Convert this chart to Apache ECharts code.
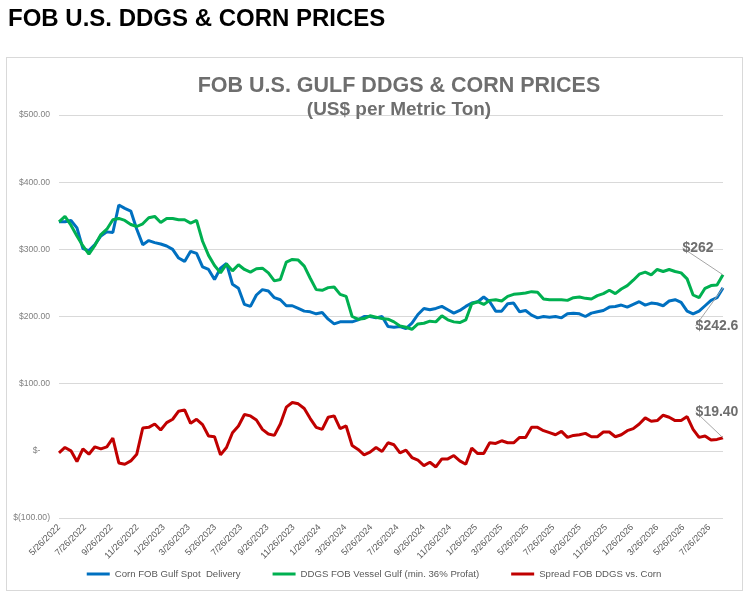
<!DOCTYPE html>
<html>
<head>
    <meta charset="utf-8" />
    <script src="https://cdn.jsdelivr.net/npm/echarts@6/dist/echarts.min.js"></script>
    <title>FOB U.S. DDGS & CORN PRICES</title>
    <style>
        body { margin: 0; background: #fff; }
        #frame { position: absolute; left: 6px; top: 57px; width: 735px; height: 532px; border: 1px solid #d9d9d9; }
        #main { position: absolute; left: 0; top: 0; width: 748px; height: 600px; }
    </style>
</head>
<body>
    <div id="frame"></div>
    <div id="main"></div>
    <script type="text/javascript">
    // x axis: one category per day, labels every second month on the 26th
    var firstDay = [2022, 5, 26];
    var lastDay = [2026, 8, 27];
    var stepDays = 14; // one reading every two weeks
    var tickLabels = ['5/26/2022', '7/26/2022', '9/26/2022', '11/26/2022', '1/26/2023', '3/26/2023',
        '5/26/2023', '7/26/2023', '9/26/2023', '11/26/2023', '1/26/2024', '3/26/2024',
        '5/26/2024', '7/26/2024', '9/26/2024', '11/26/2024', '1/26/2025', '3/26/2025',
        '5/26/2025', '7/26/2025', '9/26/2025', '11/26/2025', '1/26/2026', '3/26/2026',
        '5/26/2026', '7/26/2026'];

    var seriesNames = ['Corn FOB Gulf Spot  Delivery', 'DDGS FOB Vessel Gulf (min. 36% Profat)', 'Spread FOB DDGS vs. Corn'];
    var seriesColors = ['#0070c0', '#00b050', '#c00000'];
    var endLabels = ['$242.6', '$262', '$19.40'];

    var corn = [341, 341, 343, 332, 301, 298, 307, 320, 326, 325,
        366, 361, 357, 330, 307, 313, 310, 308, 305, 300,
        287, 282, 297, 294, 274, 270, 255, 272, 279, 248,
        242, 218, 215, 232, 240, 238, 228, 225, 216, 216,
        212, 208, 207, 204, 206, 196, 189, 192, 192, 192,
        195, 200, 200, 198, 200, 185, 184, 185, 182, 190,
        203, 212, 210, 212, 215, 210, 205, 209, 215, 220,
        222, 229, 222, 208, 208, 219, 220, 207, 209, 202,
        198, 200, 199, 200, 198, 204, 205, 204, 200, 205,
        207, 209, 214, 215, 217, 214, 218, 222, 217, 220,
        219, 216, 223, 225, 221, 208, 204, 208, 216, 224,
        228, 242.6];
    var ddgs = [341, 349, 336, 320, 305, 293, 306, 322, 330, 344,
        346, 343, 337, 334, 338, 347, 349, 340, 346, 346,
        344, 344, 339, 343, 312, 291, 276, 265, 278, 268,
        277, 270, 266, 271, 272, 265, 253, 255, 281, 285,
        284, 275, 257, 240, 239, 243, 244, 233, 230, 200,
        196, 197, 201, 199, 197, 196, 192, 186, 184, 181,
        189, 190, 193, 192, 201, 195, 192, 191, 195, 219,
        222, 218, 224, 225, 223, 230, 233, 234, 235, 237,
        236, 226, 225, 225, 225, 224, 228, 229, 227, 226,
        231, 234, 239, 234, 241, 246, 254, 263, 266, 262,
        270, 267, 270, 267, 265, 256, 232, 228, 242, 246,
        247, 262];
    var spread = [-3, 5, 0, -16, 3, -5, 6, 3, 6, 19,
        -18, -20, -15, -5, 34, 35, 40, 31, 42, 47,
        59, 61, 41, 47, 39, 22, 21, -6, 5, 27,
        37, 54, 52, 46, 32, 25, 23, 40, 65, 72,
        70, 63, 48, 35, 32, 50, 52, 33, 37, 8,
        2, -6, -2, 5, -1, 12, 9, -3, 1, -10,
        -14, -22, -17, -24, -12, -12, -7, -15, -20, 4,
        -4, -4, 12, 11, 15, 12, 12, 20, 20, 35,
        35, 30, 27, 24, 29, 20, 23, 24, 26, 21,
        21, 28, 28, 21, 24, 30, 33, 40, 49, 44,
        45, 53, 50, 45, 45, 51, 32, 20, 22, 16,
        17, 19.4];

    function fmtDate(d) {
        return (d.getMonth() + 1) + '/' + d.getDate() + '/' + d.getFullYear();
    }
    var days = [];
    var d = new Date(firstDay[0], firstDay[1] - 1, firstDay[2]);
    var stop = new Date(lastDay[0], lastDay[1] - 1, lastDay[2]);
    while (d <= stop) {
        days.push(fmtDate(d));
        d = new Date(d.getFullYear(), d.getMonth(), d.getDate() + 1);
    }

    function pairs(values) {
        return values.map(function(v, k) { return [days[k * stepDays], v]; });
    }

    function money(v) {
        if (v === 0) return '$-    ';
        if (v < 0) return '$(' + Math.abs(v).toFixed(2) + ')';
        return '$' + v.toFixed(2);
    }

    var arial = '"Liberation Sans", Arial, sans-serif';

    // label placement for the last point of each series
    var labelPos = [
        { position: 'bottom', dx: -6, dy: 26 },
        { position: 'top', dx: -25, dy: -15 },
        { position: 'top', dx: -6, dy: -14 }
    ];

    function makeSeries(i, values) {
        var data = pairs(values);
        var last = data.length - 1;
        data[last] = {
            value: data[last],
            label: {
                show: true,
                position: labelPos[i].position,
                formatter: endLabels[i],
                fontFamily: arial,
                fontWeight: 'bold',
                fontSize: 14,
                color: '#6e6e6e'
            }
        };
        return {
            name: seriesNames[i],
            type: 'line',
            data: data,
            symbol: 'circle',
            symbolSize: 0,
            showSymbol: true,
            showAllSymbol: true,
            clip: false,
            lineStyle: { color: seriesColors[i], width: 3 },
            itemStyle: { color: seriesColors[i] },
            labelLayout: { dx: labelPos[i].dx, dy: labelPos[i].dy },
            labelLine: { show: true, lineStyle: { color: '#a6a6a6', width: 1 } }
        };
    }

    var myChart = echarts.init(document.getElementById('main'));
    var option = {
        animation: false,
        title: [{
            text: 'FOB U.S. DDGS & CORN PRICES',
            left: 3,
            top: 2,
            textStyle: { fontFamily: arial, fontWeight: 'bold', fontSize: 24, color: '#000' }
        }, {
            text: 'FOB U.S. GULF DDGS & CORN PRICES',
            left: 394,
            textAlign: 'center',
            top: 70,
            textStyle: { fontFamily: arial, fontWeight: 'bold', fontSize: 21.5, color: '#6e6e6e' }
        }, {
            text: '(US$ per Metric Ton)',
            left: 394,
            textAlign: 'center',
            top: 95,
            textStyle: { fontFamily: arial, fontWeight: 'bold', fontSize: 19, color: '#6e6e6e' }
        }],
        legend: {
            bottom: 16,
            left: 'center',
            itemWidth: 23,
            itemHeight: 3,
            itemGap: 32,
            icon: 'rect',
            textStyle: { fontFamily: arial, fontSize: 9.6, color: '#595959' },
            data: seriesNames
        },
        grid: { left: 59, right: 25, top: 115, bottom: 82, containLabel: false },
        xAxis: {
            type: 'category',
            data: days,
            boundaryGap: false,
            axisLine: { show: false },
            axisTick: { show: false },
            splitLine: { show: false },
            axisLabel: {
                rotate: 45,
                margin: 8,
                fontFamily: arial,
                fontSize: 9,
                color: '#595959',
                interval: function(index, value) { return tickLabels.indexOf(value) >= 0; }
            }
        },
        yAxis: {
            type: 'value',
            min: -100,
            max: 500,
            interval: 100,
            axisLine: { show: false },
            axisTick: { show: false },
            splitLine: { lineStyle: { color: '#d9d9d9', width: 1 } },
            axisLabel: {
                formatter: money,
                margin: 9,
                fontFamily: arial,
                fontSize: 8.6,
                color: '#808080'
            }
        },
        series: [makeSeries(0, corn), makeSeries(1, ddgs), makeSeries(2, spread)]
    };
    myChart.setOption(option);
    </script>
</body>
</html>
